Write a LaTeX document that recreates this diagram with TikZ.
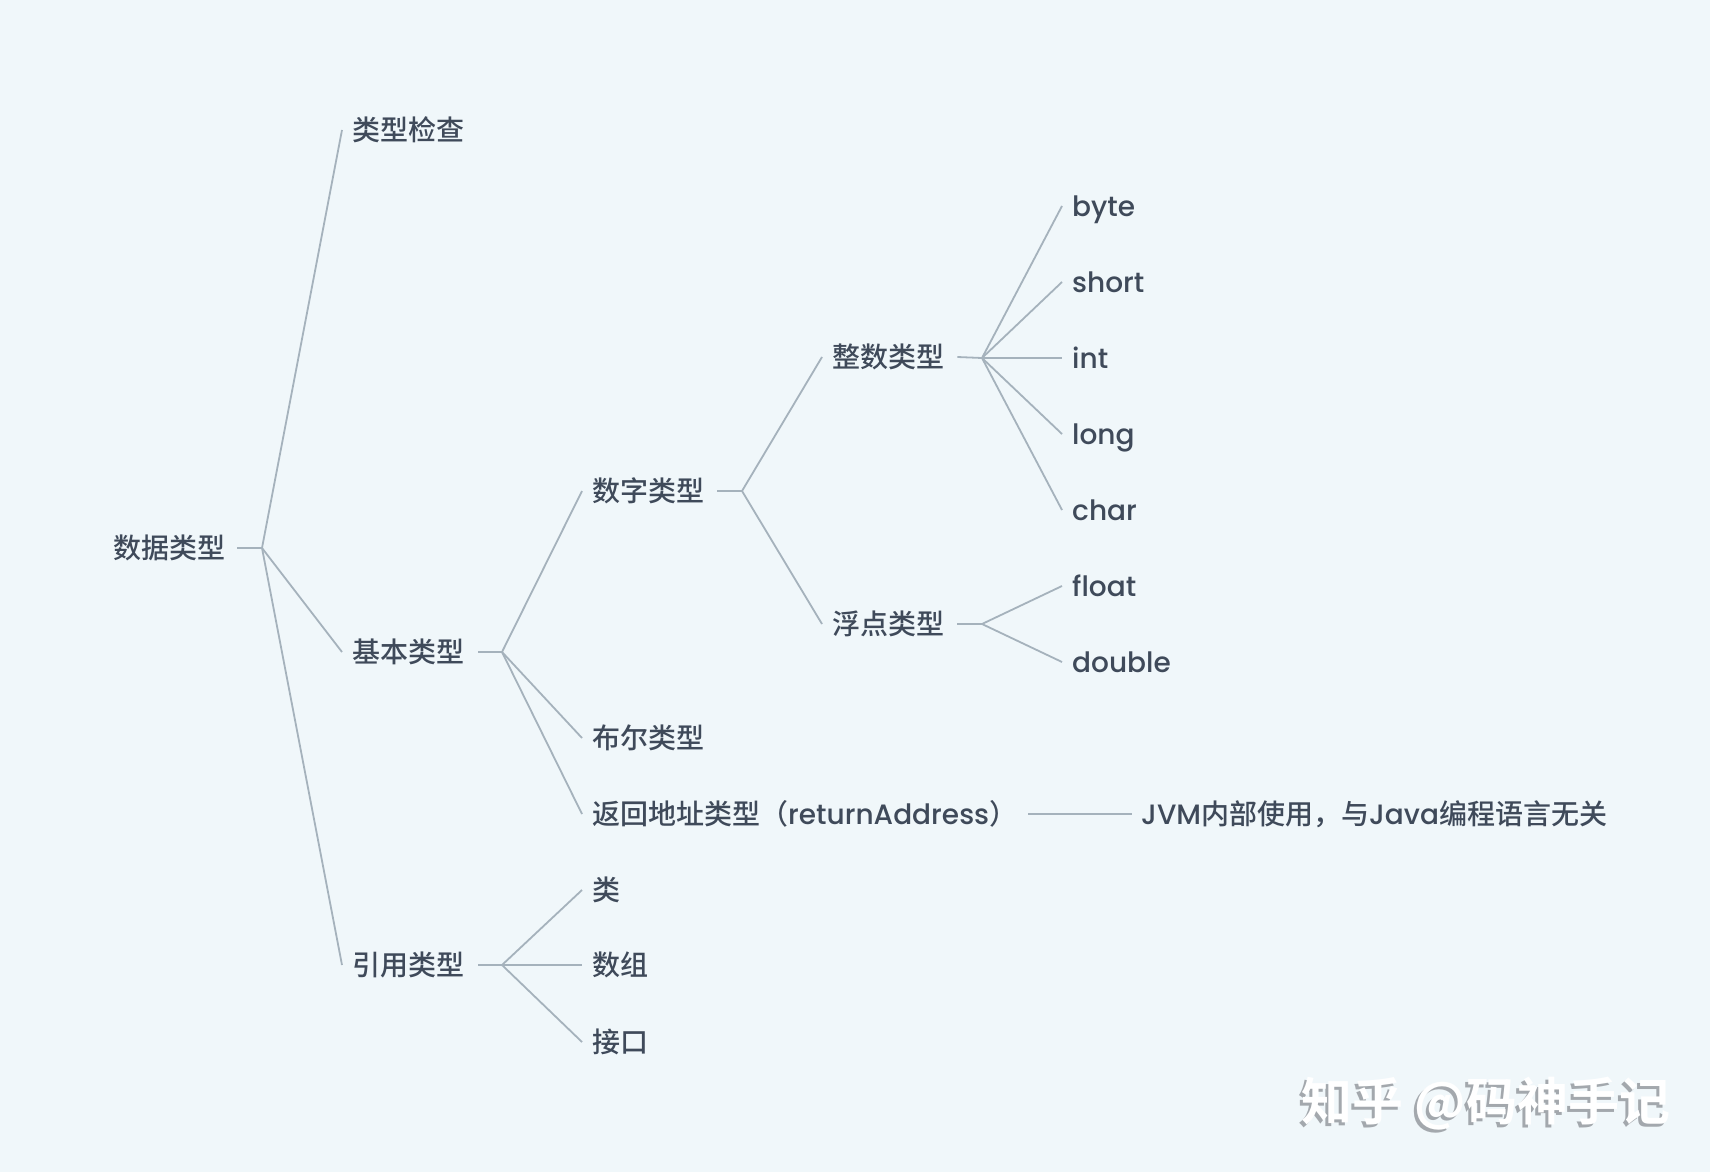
\documentclass[tikz,border=0pt]{standalone}
\usepackage{fontspec}
\setmainfont{Poppins}[UprightFont=* Medium,BoldFont=* SemiBold]
\newfontfamily\cjk{Noto Sans CJK SC}[UprightFont=* Medium,BoldFont=* Bold]
\newcommand\zh[1]{{\cjk #1}}
\definecolor{bgc}{HTML}{F0F7FA}
\definecolor{txt}{HTML}{3F4A5A}
\definecolor{lnc}{HTML}{A5B2BC}
\definecolor{wmg}{HTML}{A3A8AD}
\begin{document}
\begin{tikzpicture}[x=1pt,y=-1pt,
  lbl/.style={anchor=west,inner sep=0pt,text=txt,font=\fontsize{28}{33}\selectfont,text height=21pt,text depth=1pt},
  conn/.style={draw=lnc,line width=1.8pt},
  wm/.style={anchor=west,inner sep=0pt,font=\cjk\bfseries\fontsize{51}{56}\selectfont}]
\fill[bgc] (0,0) rectangle (1710,1172);
\useasboundingbox (0,0) rectangle (1710,1172);
% nodes
\node[lbl] (root) at (113,548) {\zh{数据类型}};
\node[lbl] (tc) at (352,130) {\zh{类型检查}};
\node[lbl] (basic) at (352,652) {\zh{基本类型}};
\node[lbl] (ref) at (352,965) {\zh{引用类型}};
\node[lbl] (num) at (592,491) {\zh{数字类型}};
\node[lbl] (bool) at (592,738) {\zh{布尔类型}};
\node[lbl] (ret) at (592,814) {\zh{返回地址类型（}returnAddress\zh{）}};
\node[lbl] (jvm) at (1141,814) {JVM\zh{内部使用，与}Java\zh{编程语言无关}};
\node[lbl] (intT) at (832,357) {\zh{整数类型}};
\node[lbl] (fltT) at (832,624) {\zh{浮点类型}};
\node[lbl] (byte) at (1072,206) {byte};
\node[lbl] (short) at (1072,282) {short};
\node[lbl] (int) at (1072,358) {int};
\node[lbl] (long) at (1072,434) {long};
\node[lbl] (char) at (1072,510) {char};
\node[lbl] (float) at (1072,586) {float};
\node[lbl] (double) at (1072,662) {double};
\node[lbl] (cls) at (592,890) {\zh{类}};
\node[lbl] (arr) at (592,965) {\zh{数组}};
\node[lbl] (ifc) at (592,1042) {\zh{接口}};
% junctions
\coordinate (j0) at (262,548);
\coordinate (j1) at (502,652);
\coordinate (j2) at (742,491);
\coordinate (j3) at (982,358);
\coordinate (j4) at (982,624);
\coordinate (j5) at (502,965);
% connectors
\draw[conn] ([xshift=12pt]root.east) -- (j0);
\foreach \c in {tc,basic,ref} \draw[conn] (j0) -- ([xshift=-10pt]\c.west);
\draw[conn] ([xshift=14pt]basic.east) -- (j1);
\foreach \c in {num,bool,ret} \draw[conn] (j1) -- ([xshift=-10pt]\c.west);
\draw[conn] ([xshift=13pt]num.east) -- (j2);
\foreach \c in {intT,fltT} \draw[conn] (j2) -- ([xshift=-10pt]\c.west);
\draw[conn] ([xshift=13pt]intT.east) -- (j3);
\foreach \c in {byte,short,int,long,char} \draw[conn] (j3) -- ([xshift=-10pt]\c.west);
\draw[conn] ([xshift=13pt]fltT.east) -- (j4);
\foreach \c in {float,double} \draw[conn] (j4) -- ([xshift=-10pt]\c.west);
\draw[conn] ([xshift=14pt]ref.east) -- (j5);
\foreach \c in {cls,arr,ifc} \draw[conn] (j5) -- ([xshift=-10pt]\c.west);
\draw[conn] ([xshift=11pt]ret.east) -- ([xshift=-9pt]jvm.west);
% watermark
\node[wm,text=wmg] (wms) at (1298,1107) {知乎 @码神手记};
\node[wm,text=white] (wmk) at (1301,1104) {知乎 @码神手记};
\end{tikzpicture}
\end{document}
